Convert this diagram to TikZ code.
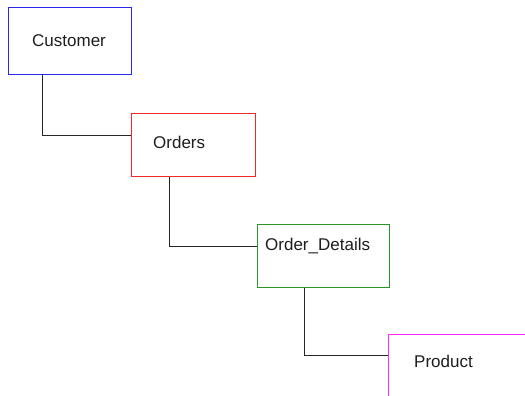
\documentclass[tikz,border=0pt]{standalone}
\usepackage{fontspec}
\setmainfont{Liberation Sans}
\definecolor{cblue}{RGB}{40,40,230}
\definecolor{cred}{RGB}{240,40,40}
\definecolor{cgreen}{RGB}{40,150,40}
\definecolor{cmag}{RGB}{255,40,255}
\definecolor{ctext}{RGB}{30,30,30}
\begin{document}
\begin{tikzpicture}[x=1pt,y=-1pt,
  tbox/.style={draw,line width=1pt,fill=white,inner sep=0pt},
  tlabel/.style={anchor=base west,inner sep=0pt,text=ctext,font=\fontsize{17}{20}\selectfont},
  conn/.style={draw=black!85,line width=1pt}]
\useasboundingbox (0,0) rectangle (525,396);
\fill[white] (0,0) rectangle (525,396);
% boxes
\node[tbox,draw=cblue,anchor=north west,minimum width=123pt,minimum height=67pt] (cust) at (8,7) {};
\node[tbox,draw=cred,anchor=north west,minimum width=124pt,minimum height=63pt] (ord) at (131,113) {};
\node[tbox,draw=cgreen,anchor=north west,minimum width=132pt,minimum height=63pt] (od) at (257,224) {};
\node[tbox,draw=none,anchor=north west,minimum width=137pt,minimum height=61pt] (prod) at (388,334) {};
\draw[cmag,line width=1pt] (prod.north east) -- (prod.north west) -- (prod.south west) -- (prod.south east);
% labels
\node[tlabel] (tcust) at (32,47) {Customer};
\node[tlabel] (tord) at (153,148) {Orders};
\node[tlabel] (tod) at (265,250) {Order\_Details};
\node[tlabel] (tprod) at (414,367) {Product};
% connectors
\draw[conn] ([xshift=34pt]cust.south west) |- ([yshift=-22pt]ord.north west);
\draw[conn] ([xshift=38pt]ord.south west) |- ([yshift=-22pt]od.north west);
\draw[conn] ([xshift=47pt]od.south west) |- ([yshift=-21pt]prod.north west);
\end{tikzpicture}
\end{document}
